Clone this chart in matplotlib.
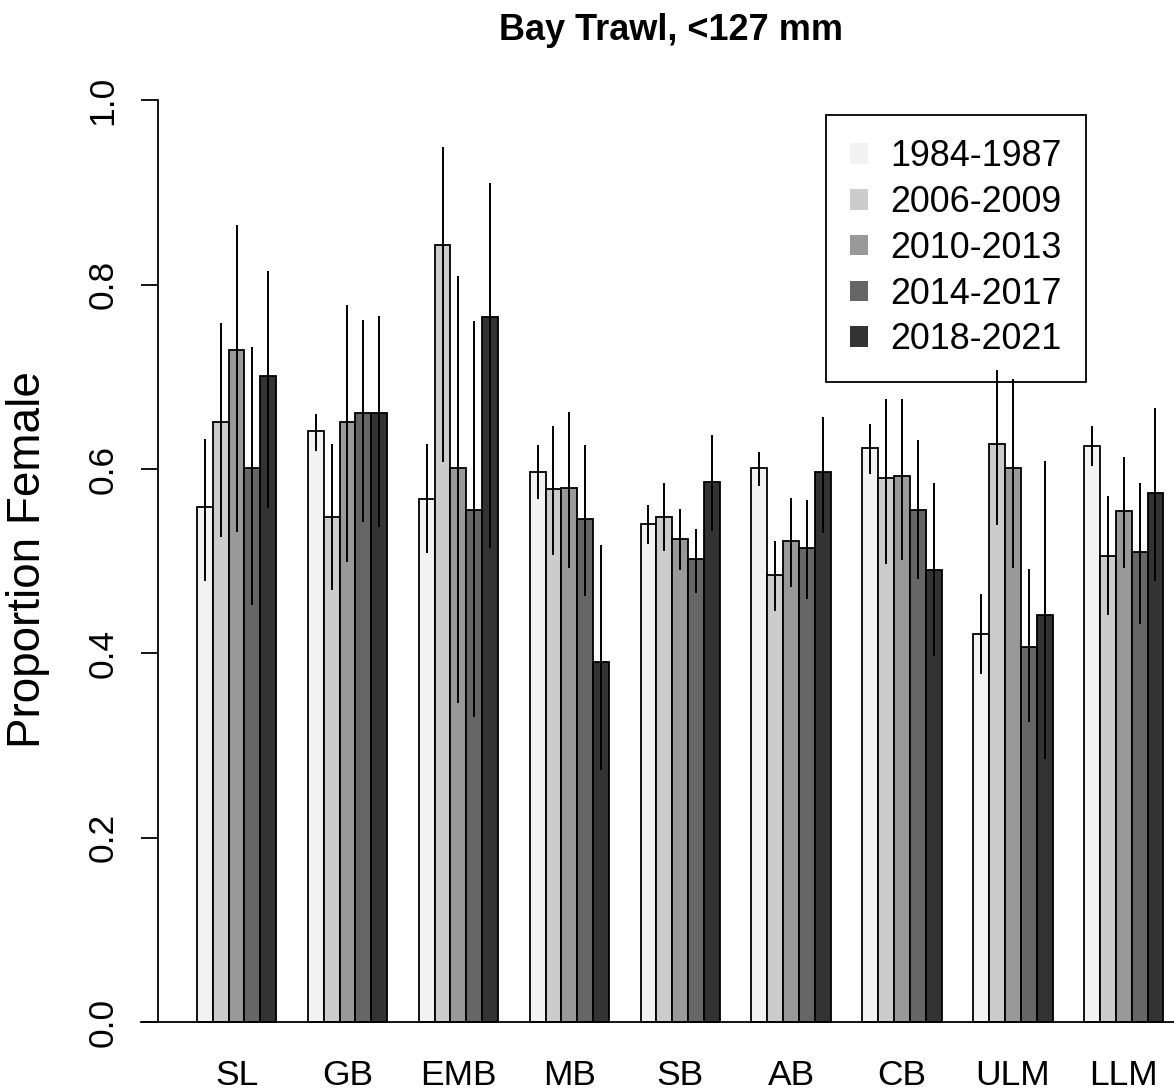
import numpy as np
import matplotlib
matplotlib.use("Agg")
import matplotlib.pyplot as plt
from matplotlib.patches import Patch

plt.rcParams['font.family'] = ['Liberation Sans', 'DejaVu Sans']

categories = ["SL", "GB", "EMB", "MB", "SB", "AB", "CB", "ULM", "LLM"]
periods = ["1984-1987", "2006-2009", "2010-2013", "2014-2017", "2018-2021"]
colors = ["#F2F2F2", "#CCCCCC", "#999999", "#666666", "#333333"]

p1984 = [0.559, 0.641, 0.568, 0.597, 0.540, 0.601, 0.623, 0.421, 0.625]
lo1984 = [0.479, 0.620, 0.509, 0.568, 0.519, 0.582, 0.595, 0.378, 0.603]
hi1984 = [0.633, 0.660, 0.627, 0.626, 0.561, 0.619, 0.649, 0.464, 0.647]

p2006 = [0.651, 0.548, 0.843, 0.578, 0.548, 0.485, 0.590, 0.627, 0.506]
lo2006 = [0.526, 0.469, 0.608, 0.507, 0.511, 0.446, 0.497, 0.539, 0.442]
hi2006 = [0.758, 0.627, 0.949, 0.647, 0.585, 0.522, 0.676, 0.708, 0.571]

p2010 = [0.729, 0.651, 0.601, 0.580, 0.524, 0.522, 0.592, 0.601, 0.554]
lo2010 = [0.532, 0.499, 0.346, 0.493, 0.490, 0.472, 0.501, 0.493, 0.493]
hi2010 = [0.865, 0.778, 0.809, 0.662, 0.557, 0.569, 0.676, 0.698, 0.613]

p2014 = [0.601, 0.661, 0.556, 0.546, 0.502, 0.514, 0.556, 0.407, 0.510]
lo2014 = [0.452, 0.543, 0.331, 0.462, 0.466, 0.459, 0.481, 0.326, 0.432]
hi2014 = [0.732, 0.762, 0.761, 0.626, 0.535, 0.566, 0.632, 0.492, 0.585]

p2018 = [0.701, 0.661, 0.765, 0.391, 0.586, 0.597, 0.490, 0.442, 0.574]
lo2018 = [0.558, 0.537, 0.514, 0.274, 0.533, 0.531, 0.397, 0.285, 0.479]
hi2018 = [0.815, 0.766, 0.910, 0.518, 0.637, 0.656, 0.585, 0.609, 0.666]

means = [p1984, p2006, p2010, p2014, p2018]
lows = [lo1984, lo2006, lo2010, lo2014, lo2018]
highs = [hi1984, hi2006, hi2010, hi2014, hi2018]

W, H = 1174, 1090
fig = plt.figure(figsize=(W / 100, H / 100), dpi=100)
ax_left = 158.3 / W
ax_bottom = (H - 1058.9) / H
ax_top = (H - 63.6) / H
ax = fig.add_axes([ax_left, ax_bottom, 1.0 - ax_left, ax_top - ax_bottom])

ngroups = len(categories)
nser = len(periods)
group_start = 2 + 7 * np.arange(ngroups)

for j in range(nser):
    x = group_start + j
    ax.bar(x, means[j], width=1.0, align='edge', color=colors[j],
           edgecolor='black', linewidth=1.3, zorder=2)
    ax.vlines(x + 0.5, lows[j], highs[j], color='black', linewidth=1.4, zorder=6)

ax.set_xlim(-0.44, (W - 165.3) / 15.843)
ax.set_ylim(-0.04, 1.04)

for s in ['top', 'right', 'bottom']:
    ax.spines[s].set_visible(False)
ax.spines['left'].set_bounds(0, 1)
ax.spines['left'].set_linewidth(1.3)

ax.axhline(0, xmin=-(158.3 - 141) / (W - 158.3), xmax=1, color='black',
           linewidth=1.3, clip_on=False, zorder=4)

ax.set_yticks([0.0, 0.2, 0.4, 0.6, 0.8, 1.0])
ax.set_yticklabels(["0.0", "0.2", "0.4", "0.6", "0.8", "1.0"], rotation=90,
                   va='center', fontsize=25.5)
ax.tick_params(axis='y', length=12, width=1.3, pad=16)

ax.set_xticks(group_start + 2.5)
ax.set_xticklabels(categories, fontsize=25.5)
ax.tick_params(axis='x', length=0, pad=0)

fig.text(28 / W, 1 - 560 / H, "Proportion Female", rotation=90,
         ha='center', va='center', fontsize=33)
fig.text(671 / W, 1 - 31 / H, "Bay Trawl, <127 mm", ha='center', va='center',
         fontsize=26, fontweight='bold')

handles = [Patch(facecolor=c, edgecolor='none') for c in colors]
leg = ax.legend(handles, periods, loc='upper left',
                bbox_to_anchor=(826 / W, 1 - 115 / H), bbox_transform=fig.transFigure,
                borderaxespad=0, fontsize=25.8, handlelength=0.5, handleheight=0.5,
                handletextpad=0.6, labelspacing=0.3, borderpad=0.68,
                fancybox=False, framealpha=1, edgecolor='black')
leg.get_frame().set_linewidth(1.3)
leg.get_frame().set_facecolor('none')
leg.set_zorder(5)

fig.savefig("out.png", dpi=100)
